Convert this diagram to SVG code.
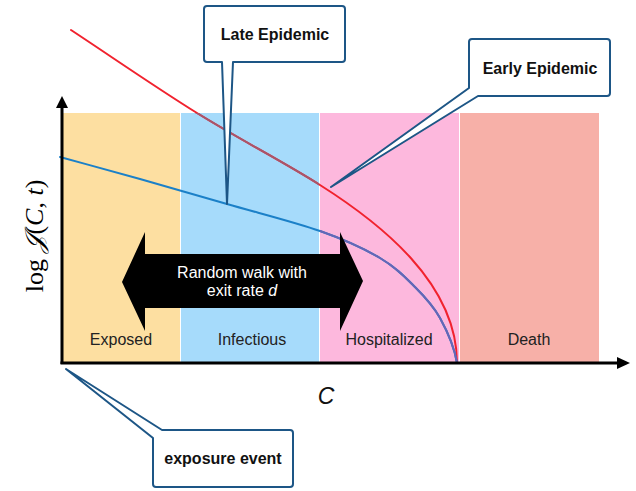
<svg xmlns="http://www.w3.org/2000/svg" width="636" height="491" viewBox="0 0 636 491">
<style>
.band-label{font-family:"Liberation Sans",Arial,sans-serif;font-size:16px;fill:#222;text-anchor:middle}
.callout{fill:#fff;stroke:#1d5686;stroke-width:2;stroke-linejoin:round}
.callout-text{font-family:"Liberation Sans",Arial,sans-serif;font-size:16px;font-weight:bold;fill:#111;text-anchor:middle}
.arrow-text{font-family:"Liberation Sans",Arial,sans-serif;font-size:16px;fill:#fff;text-anchor:middle}
.curve{fill:none;stroke-width:2;stroke-linecap:round}
</style>
<defs>
<clipPath id="clipInf"><rect x="181" y="113" width="138" height="250"/></clipPath>
<clipPath id="clipHosp"><rect x="320" y="113" width="139" height="250"/></clipPath>
<path id="redCurve" d="M71,30 C113,57.7 155.5,87.2 197,113 C238.5,138.8 284,162.2 320,185 C380,223 457,283 457,363"/>
<path id="blueCurve" d="M60,157 C86.7,164.3 112.2,171.2 140,179 C167.8,186.8 197,195.3 227,204 C257,212.7 294.5,222 320,231 C345.5,240 364.2,248.7 380,258 C395.8,267.3 405,277 415,287 C425,297 433,305.3 440,318 C447,330.7 454.2,346 457,363"/>
</defs>
<g id="bands">
<rect x="62" y="113" width="118" height="250" fill="#fddfa1"/>
<rect x="181" y="113" width="138" height="250" fill="#a6dbfb"/>
<rect x="320" y="113" width="139" height="250" fill="#fdb8dd"/>
<rect x="460" y="113" width="139" height="250" fill="#f7b0a8"/>
<text class="band-label" x="121" y="345">Exposed</text>
<text class="band-label" x="252" y="345">Infectious</text>
<text class="band-label" x="389" y="345">Hospitalized</text>
<text class="band-label" x="529" y="345">Death</text>
</g>
<g id="curves">
<use href="#redCurve" class="curve" stroke="#f1222e"/>
<use href="#redCurve" class="curve" stroke="#a8566b" clip-path="url(#clipInf)"/>
<use href="#blueCurve" class="curve" stroke="#1b80c8"/>
<use href="#blueCurve" class="curve" stroke="#6666b6" clip-path="url(#clipHosp)"/>
</g>
<g id="axes">
<line x1="62" y1="364" x2="62" y2="106" stroke="#000" stroke-width="3"/>
<polygon points="62,96 56,108 68,108" fill="#000"/>
<line x1="60.5" y1="363" x2="619" y2="363" stroke="#000" stroke-width="3"/>
<polygon points="630,363 617,357 617,369" fill="#000"/>
<text x="326" y="404" font-family="'Liberation Sans',Arial,sans-serif" font-size="23" font-style="italic" fill="#111" text-anchor="middle">C</text>
<text transform="translate(43,236) rotate(-90)" font-family="'Liberation Serif','DejaVu Serif',serif" font-size="26" fill="#000" text-anchor="middle">log <tspan font-style="italic">𝒥</tspan>(<tspan font-style="italic">C</tspan>, <tspan font-style="italic">t</tspan>)</text>
</g>
<g id="random-walk">
<polygon points="122,282 145,232 145,254 340,254 340,232 363,281 340,331 340,308 145,308 145,331" fill="#000"/>
<text class="arrow-text" x="242" y="278">Random walk with</text>
<text class="arrow-text" x="242" y="296">exit rate <tspan font-style="italic">d</tspan></text>
</g>
<g id="late-epidemic">
<path class="callout" d="M207,6 H342 Q345,6 345,9 V59 Q345,62 342,62 H233 L227,204 L222,62 H207 Q204,62 204,59 V9 Q204,6 207,6 Z"/>
<text class="callout-text" x="275" y="40">Late Epidemic</text>
</g>
<g id="early-epidemic">
<path class="callout" d="M472,39 H607 Q610,39 610,42 V93 Q610,96 607,96 H478 L331,187 L469,88 V42 Q469,39 472,39 Z"/>
<text class="callout-text" x="540" y="74">Early Epidemic</text>
</g>
<g id="exposure-event">
<path class="callout" d="M162,430 H290 Q293,430 293,433 V484 Q293,487 290,487 H156 Q153,487 153,484 V438 L66,369 Z"/>
<text class="callout-text" x="223" y="464">exposure event</text>
</g>
</svg>
